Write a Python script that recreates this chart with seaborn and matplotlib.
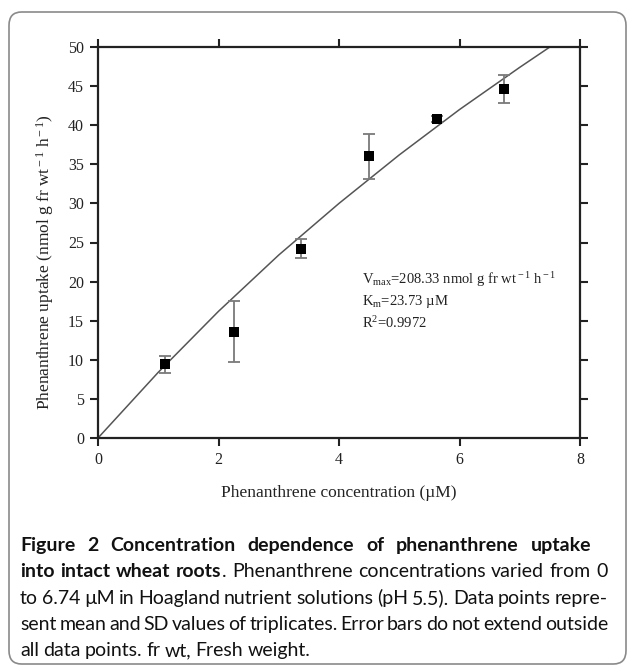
import matplotlib
matplotlib.use("Agg")
import matplotlib.pyplot as plt
import seaborn as sns
import pandas as pd
from matplotlib.patches import FancyBboxPatch

# Data
conc = [1.12, 2.25, 3.37, 4.49, 5.62, 6.74]          # µM
uptake = [9.4, 13.6, 24.2, 36.0, 40.8, 44.6]          # nmol g fr wt-1 h-1
sd = [1.05, 3.9, 1.2, 2.9, 0.4, 1.8]

# Fitted Michaelis-Menten curve
fit_x = [0, 1, 2, 3, 4, 5, 6, 7, 7.5]
fit_y = [0, 8.4, 16.2, 23.4, 30.0, 36.2, 42.0, 47.4, 50.0]

xticks = [0, 2, 4, 6, 8]
yticks = [0, 5, 10, 15, 20, 25, 30, 35, 40, 45, 50]

annot = [r"V$_{\rm max}$=208.33 nmol g fr wt$^{\rm -1}$ h$^{\rm -1}$",
         r"K$_{\rm m}$=23.73 µM",
         r"R$^{2}$=0.9972"]

caption = [
    [[("Figure", "bold")], [("2", "bold")], [("Concentration", "bold")], [("dependence", "bold")],
     [("of", "bold")], [("phenanthrene", "bold")], [("uptake", "bold")]],
    [[("into", "bold")], [("intact", "bold")], [("wheat", "bold")], [("roots", "bold"), (".", "normal")],
     [("Phenanthrene", "normal")], [("concentrations", "normal")], [("varied", "normal")],
     [("from", "normal")], [("0", "normal")]],
    [[(w, "normal")] for w in "to 6.74 µM in Hoagland nutrient solutions (pH 5.5). Data points repre-".split()],
    [[(w, "normal")] for w in "sent mean and SD values of triplicates. Error bars do not extend outside".split()],
    [[(w, "normal")] for w in "all data points. fr wt, Fresh weight.".split()],
]

sns.set_theme(style="ticks")
plt.rcParams['font.family'] = ['Liberation Serif', 'DejaVu Serif']
plt.rcParams['mathtext.fontset'] = 'custom'
plt.rcParams['mathtext.rm'] = 'Liberation Serif'
plt.rcParams['mathtext.it'] = 'Liberation Serif:italic'

W, H = 628, 667
fig = plt.figure(figsize=(W / 100, H / 100), dpi=100)
ax = fig.add_axes([98 / W, 1 - 438 / H, (580 - 98) / W, (438 - 47) / H])

# rounded frame around figure + caption
frame = FancyBboxPatch((9 / W, 3 / H), (626 - 9) / W, (655 - 3) / H,
                       boxstyle="round,pad=0,rounding_size=0.02",
                       transform=fig.transFigure, fill=False,
                       edgecolor="#8a8a8a", linewidth=1.2)
fig.patches.append(frame)

df_fit = pd.DataFrame({"x": fit_x, "y": fit_y})
sns.lineplot(data=df_fit, x="x", y="y", ax=ax, color="#555555", linewidth=1.1, sort=True)

ax.errorbar(conc, uptake, yerr=sd, fmt="none", ecolor="#7a7a7a",
            elinewidth=1.3, capsize=4, capthick=1.3, zorder=3)
df_pts = pd.DataFrame({"conc": conc, "uptake": uptake})
sns.scatterplot(data=df_pts, x="conc", y="uptake", ax=ax, marker="s", s=58,
                color="black", edgecolor="black", linewidth=0, zorder=4)

ax.set_xlim(0, 8)
ax.set_ylim(0, 50)
ax.set_xticks(xticks)
ax.set_yticks(yticks)
ax.tick_params(direction="out", length=6, width=1.5, top=True, right=True,
               labelsize=11.5, colors="#222222", pad=4)
for s in ax.spines.values():
    s.set_linewidth(1.6)
    s.set_color("#222222")

ax.set_xlabel("Phenanthrene concentration (µM)", fontsize=12.5, color="#222222", labelpad=12)
ax.set_ylabel(r"Phenanthrene uptake (nmol g fr wt$^{\rm -1}$ h$^{\rm -1}$)", fontsize=12.5, color="#222222")
ax.yaxis.set_label_coords(-0.088, 0.45)

for i, t in enumerate(annot):
    fig.text(362 / W, 1 - (280 + 21.5 * i) / H, t, fontsize=10.5, color="#222222", va="center")

# caption, justified like the journal layout
cap_font = ['Lato', 'DejaVu Sans']
left, right = 20, 608
line_right = {0: 591, 1: right, 2: right, 3: right}
line_base = [551, 577, 604, 630, 656]
fig.canvas.draw()
renderer = fig.canvas.get_renderer()


def measure(size):
    total = 0
    for txt in "sent mean and SD values of triplicates. Error bars do not extend outside".split():
        t = fig.text(0, 0, txt, fontsize=size, family=cap_font)
        total += t.get_window_extent(renderer).width
        t.remove()
    return total


cap_size = 14.0
while measure(cap_size) + 3.0 * 11 > right - left and cap_size > 10:
    cap_size -= 0.2

for li, words in enumerate(caption):
    pieces = []
    widths = []
    for word in words:
        segs = []
        wsum = 0
        for txt, weight in word:
            t = fig.text(0, 0, txt, fontsize=cap_size, family=cap_font, weight=weight,
                         color="#111111", va="baseline")
            bb = t.get_window_extent(renderer)
            segs.append((t, bb.width))
            wsum += bb.width
        pieces.append(segs)
        widths.append(wsum)
    if li in line_right:
        gap = (line_right[li] - left - sum(widths)) / (len(widths) - 1)
    else:
        gap = cap_size * 0.3
    x = left
    for segs, wsum in zip(pieces, widths):
        xx = x
        for t, w in segs:
            t.set_position((xx / W, 1 - line_base[li] / H))
            xx += w
        x += wsum + gap

fig.savefig("out.png", dpi=100)
